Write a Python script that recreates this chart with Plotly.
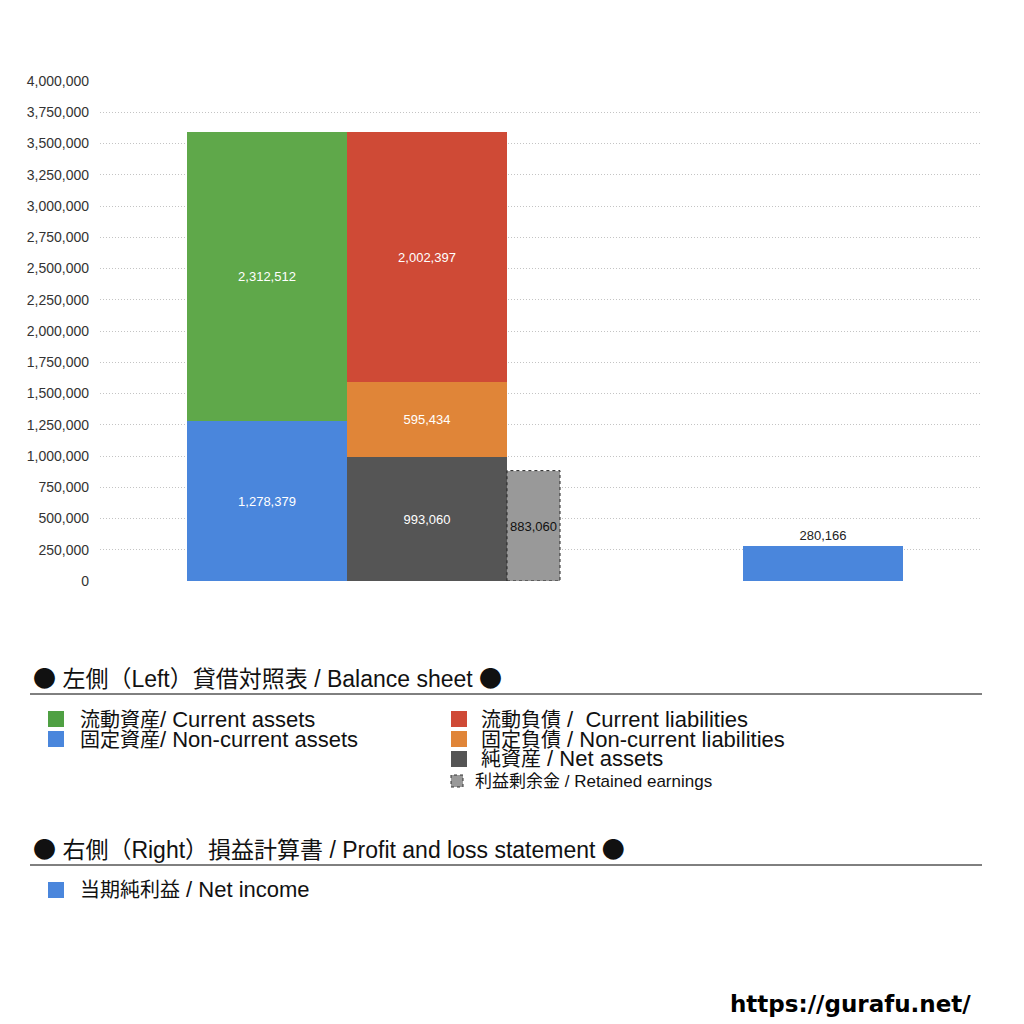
import plotly.graph_objects as go

# Balance sheet (left) and P/L (right) values
asset_names = ['固定資産', '流動資産']
asset_values = [1278379, 2312512]
asset_colors = ['#4a86dc', '#5fa84a']

liability_names = ['純資産', '固定負債', '流動負債']
liability_values = [993060, 595434, 2002397]
liability_colors = ['#555555', '#e08538', '#cf4a36']

retained_earnings = 883060
net_income = 280166

y_ticks = list(range(0, 4000001, 250000))

JP_FONT = 'Liberation Sans, Noto Sans CJK JP'
NUM_FONT = 'Liberation Sans'
DOT = '<span style="font-family:Noto Sans CJK JP">●</span>'

# the page has an 8px body margin, plot area sits at 100..980 x 81..581 on the page
L, T = 100, 81


def px(x):
    # page pixel -> paper x
    return (x - 100) / 880


def py(y):
    # page pixel -> paper y
    return (581 - y) / 500


def jp(s, size=20):
    # slightly smaller CJK glyphs so stacked rows don't collide
    return f'<span style="font-size:{size}px">{s}</span>'


fig = go.Figure()

for name, val, col in zip(asset_names, asset_values, asset_colors):
    fig.add_trace(go.Bar(
        x=[267], y=[val], width=[160], name=name,
        marker=dict(color=col, line=dict(width=0)),
        text=[f'{val:,}'], textposition='inside', insidetextanchor='middle',
        textangle=0, constraintext='none',
        textfont=dict(color='white', size=13, family=NUM_FONT),
    ))

for name, val, col in zip(liability_names, liability_values, liability_colors):
    fig.add_trace(go.Bar(
        x=[427], y=[val], width=[160], name=name,
        marker=dict(color=col, line=dict(width=0)),
        text=[f'{val:,}'], textposition='inside', insidetextanchor='middle',
        textangle=0, constraintext='none',
        textfont=dict(color='white', size=13, family=NUM_FONT),
    ))

fig.add_trace(go.Bar(
    x=[533.5], y=[retained_earnings], width=[53], name='利益剰余金',
    marker=dict(color='#999999', line=dict(width=0)),
    text=[f'{retained_earnings:,}'], textposition='inside', insidetextanchor='middle',
    textangle=0, constraintext='none',
    textfont=dict(color='#111111', size=13, family=NUM_FONT),
))

fig.add_trace(go.Bar(
    x=[823], y=[net_income], width=[160], name='当期純利益',
    marker=dict(color='#4a86dc', line=dict(width=0)),
    text=[f'{net_income:,}'], textposition='outside', textangle=0,
    constraintext='none', cliponaxis=False,
    textfont=dict(color='#222222', size=13, family=NUM_FONT),
))

shapes = [
    # dotted border of the retained earnings bar
    dict(type='rect', xref='x', yref='y', x0=507, x1=560, y0=0, y1=retained_earnings,
         line=dict(color='#222222', width=1, dash='dot'), fillcolor='rgba(0,0,0,0)'),
    # section rules
    dict(type='line', xref='paper', yref='paper', x0=px(30), x1=px(982), y0=py(694), y1=py(694),
         line=dict(color='black', width=1)),
    dict(type='line', xref='paper', yref='paper', x0=px(30), x1=px(982), y0=py(865), y1=py(865),
         line=dict(color='black', width=1)),
]

annotations = []


def add_text(text, x, y, size, color='#111111', family=JP_FONT, xanchor='left'):
    annotations.append(dict(
        text=text, xref='paper', yref='paper', x=px(x), y=py(y),
        xanchor=xanchor, yanchor='middle', showarrow=False,
        font=dict(size=size, color=color, family=family),
    ))


def add_swatch(x, y, color, size=16, dashed=False):
    h = size / 2
    shapes.append(dict(
        type='rect', xref='paper', yref='paper',
        x0=px(x - h), x1=px(x + h), y0=py(y + h), y1=py(y - h),
        fillcolor=color,
        line=dict(color='#333333', width=1, dash='dot') if dashed else dict(width=0),
    ))


add_text(f'{DOT} 左側（Left）貸借対照表 / Balance sheet {DOT}', 31, 677, 23)
add_swatch(56, 719, '#4fa043')
add_text(jp('流動資産') + '/ Current assets', 78, 719, 22)
add_swatch(56, 739, '#4a86dc')
add_text(jp('固定資産') + '/ Non-current assets', 78, 739, 22)
add_swatch(459, 719, '#cf4a36')
add_text(jp('流動負債') + ' /  Current liabilities', 479, 719, 22)
add_swatch(459, 739, '#e08538')
add_text(jp('固定負債') + ' / Non-current liabilities', 479, 739, 22)
add_swatch(459, 759, '#555555')
add_text(jp('純資産') + ' / Net assets', 479, 759, 22)
add_swatch(457, 781, '#999999', size=12, dashed=True)
add_text('利益剰余金 / Retained earnings', 473, 781, 17)

add_text(f'{DOT} 右側（Right）損益計算書 / Profit and loss statement {DOT}', 31, 848, 23)
add_swatch(56, 890, '#4a86dc')
add_text(jp('当期純利益') + ' / Net income', 78, 890, 22)

add_text('<b>https://gurafu.net/</b>', 973, 1004, 23, color='#000000',
         family='DejaVu Sans', xanchor='right')

fig.update_layout(
    width=1024, height=1024,
    margin=dict(l=L - 8, r=1024 - (980 - 8), t=T - 8, b=1024 - (581 - 8)),
    paper_bgcolor='white', plot_bgcolor='white',
    barmode='stack', bargap=0,
    showlegend=False,
    shapes=shapes,
    annotations=annotations,
    xaxis=dict(range=[100, 980], visible=False, fixedrange=True),
    yaxis=dict(
        range=[0, 4000000], tickvals=y_ticks, tickformat=',',
        showgrid=True, gridcolor='#c4c4c4', griddash='1px,2px', gridwidth=1,
        zeroline=False, showline=False, ticks='',
        ticklabelstandoff=10,
        tickfont=dict(size=14, color='#333333', family=NUM_FONT),
    ),
)

fig.write_html('out.html')
